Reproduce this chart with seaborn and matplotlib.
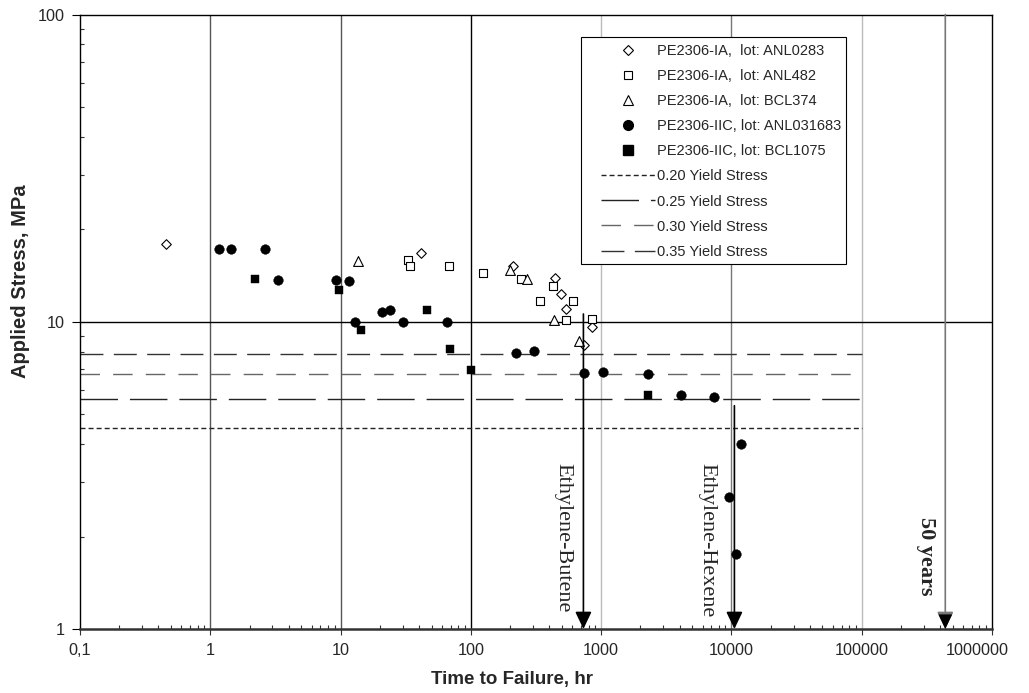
import numpy as np
import pandas as pd
import matplotlib
matplotlib.use("Agg")
import matplotlib.pyplot as plt
import seaborn as sns
from matplotlib.lines import Line2D
from matplotlib.patches import ArrowStyle, Rectangle
from matplotlib.transforms import IdentityTransform, ScaledTranslation
from matplotlib.ticker import FixedLocator, FixedFormatter, LogLocator, NullFormatter

# ---------------- data ----------------
anl0283_t = [0.46, 41.4, 211, 443, 489, 535, 851, 735]
anl0283_s = [17.9, 16.7, 15.2, 13.9, 12.3, 11.0, 9.58, 8.37]

anl482_t = [32.9, 34.3, 68.3, 124, 243, 425, 342, 605, 538, 851]
anl482_s = [15.9, 15.2, 15.2, 14.4, 13.8, 13.1, 11.65, 11.65, 10.15, 10.2]

bcl374_t = [13.5, 198, 270, 433, 677]
bcl374_s = [15.8, 14.7, 13.8, 10.15, 8.67]

anl031683_t = [1.17, 1.44, 2.63, 3.32, 9.19, 11.7, 13.0, 20.7, 24.1, 30.0, 65.5,
               221, 304, 743, 1027, 2300, 4096, 7413, 11860, 9660, 10810]
anl031683_s = [17.2, 17.2, 17.2, 13.7, 13.7, 13.6, 9.95, 10.75, 10.9, 9.95, 9.95,
               7.91, 8.03, 6.79, 6.84, 6.77, 5.76, 5.71, 4.0, 2.69, 1.75]

bcl1075_t = [2.20, 9.8, 14.4, 46.3, 69.5, 100, 2271]
bcl1075_s = [13.8, 12.7, 9.4, 10.9, 8.15, 6.98, 5.77]

series_labels = ["PE2306-IA,  lot: ANL0283", "PE2306-IA,  lot: ANL482",
                 "PE2306-IA,  lot: BCL374", "PE2306-IIC, lot: ANL031683",
                 "PE2306-IIC, lot: BCL1075"]

yield_stress = 22.5          # MPa
yield_fractions = [0.20, 0.25, 0.30, 0.35]
yield_labels = ["0.20 Yield Stress", "0.25 Yield Stress",
                "0.30 Yield Stress", "0.35 Yield Stress"]
yield_line_end = 1e5         # hr

arrow_labels = ["Ethylene-Butene", "Ethylene-Hexene", "50 years"]
arrow_x = [731, 10540, 438000]      # hr
arrow_top = [10.6, 5.33, 100]       # MPa

x_ticks = [0.1, 1, 10, 100, 1000, 10000, 100000, 1000000]
x_ticklabels = ["0,1", "1", "10", "100", "1000", "10000", "100000", "1000000"]
y_ticks = [1, 10, 100]
y_ticklabels = ["1", "10", "100"]

# ---------------- style ----------------
sns.set_theme(style="white")
plt.rcParams["font.family"] = ["Liberation Sans", "DejaVu Sans"]
plt.rcParams["lines.scale_dashes"] = False

W, H = 1029, 693
fig = plt.figure(figsize=(W / 100, H / 100), dpi=100)
ax = fig.add_axes([80 / W, 64 / H, 912 / W, 614.5 / H])
ax.set_xscale("log")
ax.set_yscale("log")
ax.set_xlim(0.1, 1e6)
ax.set_ylim(1, 100)

# vertical grid lines at decades
grid_colors = ["#555555", "#555555", "#000000", "#bbbbbb", "#777777", "#bbbbbb"]
for xv, gc in zip(x_ticks[1:-1], grid_colors):
    ax.axvline(xv, color=gc, lw=1.0, zorder=0.5)
ax.axhline(10, color="black", lw=1.0, zorder=0.6)

# yield stress lines (dash lengths in points)
yield_styles = [
    dict(color="#222222", ls=(0, (3.6, 2.2))),
    dict(color="#222222", ls=(0, (27, 8.6))),
    dict(color="#666666", ls=(0, (14, 9.5))),
    dict(color="#333333", ls=(0, (16.5, 7.5))),
]
for frac, st in zip(yield_fractions, yield_styles):
    ax.plot([0.1, yield_line_end], [frac * yield_stress] * 2, lw=1.0, zorder=1, **st)

# scatter series
df = pd.concat([
    pd.DataFrame({"t": anl0283_t, "s": anl0283_s, "lot": series_labels[0]}),
    pd.DataFrame({"t": anl482_t, "s": anl482_s, "lot": series_labels[1]}),
    pd.DataFrame({"t": bcl374_t, "s": bcl374_s, "lot": series_labels[2]}),
    pd.DataFrame({"t": anl031683_t, "s": anl031683_s, "lot": series_labels[3]}),
    pd.DataFrame({"t": bcl1075_t, "s": bcl1075_s, "lot": series_labels[4]}),
])
marker_styles = [
    dict(marker="D", s=24, facecolor="white", edgecolor="black", linewidth=0.8),
    dict(marker="s", s=40, facecolor="white", edgecolor="black", linewidth=0.8),
    dict(marker="^", s=50, facecolor="white", edgecolor="black", linewidth=0.8),
    dict(marker="o", s=48, facecolor="black", edgecolor="black", linewidth=0.3),
    dict(marker="s", s=38, facecolor="black", edgecolor="black", linewidth=0.3),
]
for lab, ms in zip(series_labels, marker_styles):
    sub = df[df["lot"] == lab]
    sns.scatterplot(data=sub, x="t", y="s", ax=ax, legend=False, zorder=3, **ms)

# arrows
head = ArrowStyle("-|>", head_length=1.05, head_width=0.5)
arrow_colors = ["black", "black", "#777777"]
for xv, top, col in zip(arrow_x, arrow_top, arrow_colors):
    ax.annotate("", xy=(xv, 1.0), xytext=(xv, top),
                arrowprops=dict(arrowstyle=head, color=col, lw=1.2,
                                shrinkA=0, shrinkB=0, mutation_scale=10),
                zorder=4)
    if col != "black":
        ax.annotate("", xy=(xv, 1.0), xytext=(xv, 1.05),
                    arrowprops=dict(arrowstyle=head, color="black", lw=0,
                                    shrinkA=0, shrinkB=0, mutation_scale=10),
                    zorder=5)

label_offsets = [-14.9, -19.9, -13.8]   # points left of arrow
label_tops = [3.47, 3.47, 2.32]
label_weights = ["normal", "normal", "bold"]
for lab, xv, off, yt, fw in zip(arrow_labels, arrow_x, label_offsets, label_tops, label_weights):
    ax.annotate(lab, xy=(xv, yt), xytext=(off, 0), textcoords="offset points",
                rotation=-90, ha="center", va="top", fontsize=16,
                family=["Liberation Serif", "DejaVu Serif"], fontweight=fw, zorder=5)

# axes / ticks
ax.xaxis.set_major_locator(FixedLocator(x_ticks))
ax.xaxis.set_major_formatter(FixedFormatter(x_ticklabels))
ax.yaxis.set_major_locator(FixedLocator(y_ticks))
ax.yaxis.set_major_formatter(FixedFormatter(y_ticklabels))
ax.xaxis.set_minor_locator(LogLocator(base=10, subs=np.arange(2, 10), numticks=20))
ax.yaxis.set_minor_locator(LogLocator(base=10, subs=np.arange(2, 10), numticks=20))
ax.xaxis.set_minor_formatter(NullFormatter())
ax.yaxis.set_minor_formatter(NullFormatter())
ax.tick_params(axis="x", which="major", direction="out", length=4, width=0.8,
               labelsize=11.7, pad=6, color="#333333", bottom=True, top=False)
ax.tick_params(axis="y", which="major", direction="out", length=6, width=0.8,
               labelsize=11.7, pad=5, color="black", left=True, right=False)
ax.tick_params(axis="both", which="minor", direction="in", length=3, width=0.8,
               bottom=True, left=True, top=False, right=False, color="#333333")
for side in ["top", "left", "right"]:
    ax.spines[side].set_color("black")
    ax.spines[side].set_linewidth(1.0)
ax.spines["bottom"].set_color("#333333")
ax.spines["bottom"].set_linewidth(1.8)

ax.set_xlabel("Time to Failure, hr", fontsize=13.5, fontweight="bold")
ax.set_ylabel("Applied Stress, MPa", fontsize=14.5, fontweight="bold")
ax.xaxis.set_label_coords(0.474, -0.068)
ax.yaxis.set_label_coords(-0.055, 0.566)

# legend (content placed, frame drawn with the reference's asymmetric padding)
handles = [
    Line2D([], [], ls="", marker="D", ms=5, mfc="white", mec="black", mew=0.8),
    Line2D([], [], ls="", marker="s", ms=6, mfc="white", mec="black", mew=0.8),
    Line2D([], [], ls="", marker="^", ms=7, mfc="white", mec="black", mew=0.8),
    Line2D([], [], ls="", marker="o", ms=7, mfc="black", mec="black"),
    Line2D([], [], ls="", marker="s", ms=6.5, mfc="black", mec="black"),
]
for st in yield_styles:
    handles.append(Line2D([], [], lw=1.0, **st))
leg = ax.legend(handles, series_labels + yield_labels, loc="upper left",
                bbox_to_anchor=(601 / W, 1 - 44 / H), bbox_transform=fig.transFigure,
                borderaxespad=0, borderpad=0, frameon=False, fontsize=10.5,
                handlelength=3.7, handletextpad=0.15, labelspacing=0.76)
leg.set_zorder(6)
fig.canvas.draw()

# last x tick label pulled inside the chart area, as in the reference
last_lbl = ax.xaxis.get_major_ticks()[-1].label1
last_lbl.set_transform(last_lbl.get_transform()
                       + ScaledTranslation(-15 / 100, 0, fig.dpi_scale_trans))

bb = leg.get_window_extent()
frame = Rectangle((bb.x0 - 20, bb.y0 - 5), bb.width + 25, bb.height + 12,
                  transform=IdentityTransform(), facecolor="white",
                  edgecolor="black", lw=0.8, zorder=5.9, clip_on=False)
ax.add_artist(frame)

fig.savefig("out.png", dpi=100)
